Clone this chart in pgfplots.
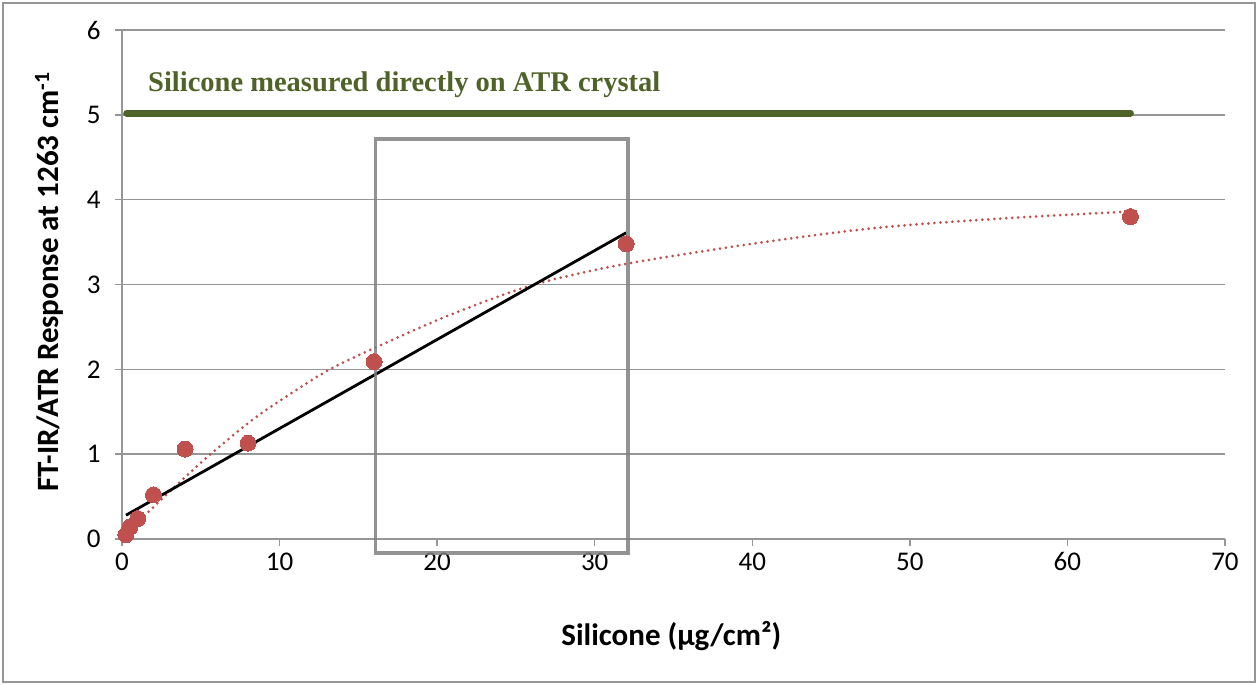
\documentclass[border=0pt]{standalone}
\usepackage{pgfplots}
\pgfplotsset{compat=1.18}
\usepackage{fontspec}
\setmainfont{Carlito}
\newfontfamily\timesb{Liberation Serif}
\definecolor{ptred}{RGB}{192,80,77}
\definecolor{olive}{RGB}{79,98,40}
\definecolor{gridgray}{RGB}{150,150,150}
\begin{document}
\begin{tikzpicture}
\useasboundingbox (0,0) rectangle (1258pt,685pt);
\draw[gridgray, line width=1.2pt] (3pt,3pt) rectangle (1255pt,682pt);
\begin{axis}[
  at={(122pt,146pt)}, anchor=south west,
  scale only axis, width=1103pt, height=509pt,
  xmin=0, xmax=70, ymin=0, ymax=6,
  xtick={0,10,...,70}, ytick={0,1,...,6},
  axis x line*=bottom, axis y line*=left,
  axis line style={gridgray, line width=1.5pt, -},
  tick style={gridgray, line width=1.5pt},
  tick align=outside, major tick length=7pt,
  ymajorgrids, grid style={gridgray, line width=1.5pt},
  /pgf/number format/assume math mode=true,
  ticklabel style={font=\fontsize{27}{27}\selectfont},
  xticklabel style={yshift=-3pt},
  yticklabel style={xshift=-11pt},
  clip=false,
  xlabel={\textbf{Silicone (μg/cm²)}},
  ylabel={\textbf{FT-IR/ATR Response at 1263 cm\textsuperscript{-1}}},
  every axis x label/.style={at={(axis description cs:0.498,0)}, yshift=-97pt, anchor=center, font=\fontsize{31}{31}\selectfont},
  every axis y label/.style={at={(axis description cs:0,0.505)}, xshift=-73pt, rotate=90, anchor=center, font=\fontsize{31}{31}\selectfont},
]
% green reference line
\addplot[olive, line width=7pt, line cap=round] coordinates {(0.3,5.02) (64,5.02)};
\node[anchor=base west, olive, inner sep=0pt, font=\timesb\bfseries\fontsize{28.5}{28.5}\selectfont] at (axis cs:1.65,5.28) {Silicone measured directly on ATR crystal};
% dotted trend curve
\addplot[ptred, line width=3pt, dash pattern=on 0pt off 6pt, line cap=round, smooth, tension=0.5] coordinates {
 (0.3,0.08) (1.46,0.28) (3.26,0.60) (5.5,0.98) (8.1,1.38) (10.1,1.64) (13,1.98) (16,2.25) (20.8,2.64) (26,2.99) (31.6,3.23) (40,3.48) (48,3.67) (56,3.78) (64,3.86)};
% linear fit
\addplot[black, line width=2.8pt] coordinates {(0.25,0.28) (32,3.61)};
% data points
\addplot[ptred, only marks, mark=*, mark size=8pt, mark options={draw=ptred, fill=ptred, line width=0pt}] coordinates {
 (0.25,0.05) (0.5,0.14) (1,0.24) (2,0.52) (4,1.06) (8,1.13) (16,2.09) (32,3.48) (64,3.80)};
% rectangle
\addplot[black!50, line width=3.5pt, opacity=0.85, line join=miter] coordinates {
 (16.1,-0.165) (32.1,-0.165) (32.1,4.715) (16.1,4.715) (16.1,-0.165) (32.1,-0.165)};
\end{axis}
\end{tikzpicture}
\end{document}
